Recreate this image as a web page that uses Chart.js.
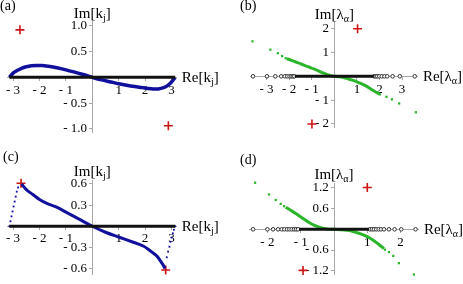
<!DOCTYPE html>
<html><head><meta charset="utf-8">
<script src="https://cdn.jsdelivr.net/npm/chart.js@4/dist/chart.umd.min.js"></script>
<style>
html,body{margin:0;padding:0;background:#fff;width:463px;height:284px;overflow:hidden}
canvas{position:absolute;left:0;top:0}
</style></head><body>
<canvas id="ca" width="463" height="284"></canvas>
<canvas id="cb" width="463" height="284"></canvas>
<canvas id="cc" width="463" height="284"></canvas>
<canvas id="cd" width="463" height="284"></canvas>
<script>
// ---------- Panel (a) ----------
const aCurveX = [-3.14,-3.0,-2.85,-2.7,-2.5,-2.3,-2.1,-1.9,-1.6,-1.3,-1.0,-0.7,-0.35,0,0.35,0.7,1.0,1.3,1.6,1.9,2.1,2.3,2.5,2.7,2.85,3.0,3.14];
const aCurveY = [0,0.08,0.13,0.17,0.205,0.225,0.23,0.228,0.21,0.18,0.145,0.105,0.055,0,-0.05,-0.09,-0.125,-0.155,-0.18,-0.2,-0.215,-0.225,-0.225,-0.2,-0.16,-0.09,0];
const aRealX = [-3.14, 3.14];
const aCrossX = [-2.74, 2.88];
const aCrossY = [0.92, -0.94];
const aXTicks = [-3,-2,-1,1,2,3];
const aXLabels = ['- 3','- 2','- 1','1','2','3'];
const aYTicks = [-1,-0.5,0.5,1];
const aYLabels = ['- 1.0','- 0.5','0.5','1.0'];

// ---------- Panel (b) ----------
const bRealX = [-3.6,-2.98,-2.61,-2.35,-2.19,-2.08,-1.98,-1.9,-1.83,-1.77,1.77,1.83,1.9,1.99,2.1,2.22,2.34,2.58,2.9,3.56];
const bRealDenseX = [-1.75, 1.75];
const bGreenSparseX = [-3.62,-2.83,-2.5,-2.31,-2.15,2.02,2.31,2.55,2.87,3.61];
const bGreenSparseY = [1.47,1.12,0.97,0.85,0.76,-0.76,-0.86,-0.97,-1.14,-1.51];
const bGreenDenseX = [-2.1,-1.9,-1.7,-1.5,-1.3,-1.1,-0.9,-0.7,-0.5,-0.3,-0.15,0,0.2,0.4,0.6,0.8,1.0,1.2,1.4,1.6,1.8,2.0];
const bGreenDenseY = [0.74,0.67,0.6,0.53,0.45,0.38,0.31,0.23,0.14,0.07,0.03,0,-0.02,-0.05,-0.1,-0.16,-0.23,-0.31,-0.4,-0.52,-0.64,-0.74];
const bCrossX = [1.03, -0.99];
const bCrossY = [2.0, -2.0];
const bXTicks = [-3,-2,-1,1,2,3];
const bXLabels = ['- 3','- 2','- 1','1','2','3'];
const bYTicks = [-2,-1,1,2];
const bYLabels = ['- 2','- 1','1','2'];

// ---------- Panel (c) ----------
const cRealX = [-3.14, 3.14];
const cCurveX = [-2.68,-2.5,-2.25,-2.0,-1.7,-1.35,-1.0,-0.5,0,0.5,1.05,1.5,1.93,2.2,2.44,2.63,2.76];
const cCurveY = [0.6,0.52,0.45,0.38,0.32,0.27,0.2,0.1,0,-0.085,-0.16,-0.22,-0.28,-0.35,-0.42,-0.52,-0.6];
const cEdgeX = [-3.14,-3.1,-3.06,-3.02,-2.98,-2.94,-2.9,-2.86,-2.81,2.82,2.87,2.92,2.96,3.0,3.05,3.09,3.13];
const cEdgeY = [0,0.07,0.14,0.21,0.28,0.35,0.42,0.49,0.55,-0.44,-0.36,-0.29,-0.22,-0.16,-0.1,-0.05,0];
const cCrossX = [-2.7, 2.78];
const cCrossY = [0.61, -0.62];
const cXTicks = [-3,-2,-1,1,2,3];
const cXLabels = ['- 3','- 2','- 1','1','2','3'];
const cYTicks = [-0.6,-0.3,0.3,0.6];
const cYLabels = ['- 0.6','- 0.3','0.3','0.6'];

// ---------- Panel (d) ----------
const dRealX = [-2.43,-2.0,-1.83,-1.68,-1.57,-1.49,-1.41,-1.34,-1.27,-1.2,-1.14,-1.08,1.08,1.14,1.2,1.27,1.34,1.41,1.5,1.65,1.82,2.02,2.45];
const dRealDenseX = [-1.05, 1.05];
const dGreenSparseX = [-2.37,-1.95,-1.75,-1.6,-1.5,1.53,1.65,1.78,1.95,2.4];
const dGreenSparseY = [1.35,1.01,0.85,0.74,0.67,-0.59,-0.66,-0.77,-0.98,-1.31];
const dGreenDenseX = [-1.45,-1.3,-1.15,-1.0,-0.8,-0.6,-0.4,-0.2,0,0.2,0.4,0.6,0.8,1.0,1.2,1.35,1.5];
const dGreenDenseY = [0.64,0.55,0.46,0.36,0.23,0.12,0.05,0.01,0,-0.01,-0.03,-0.07,-0.13,-0.21,-0.33,-0.44,-0.56];
const dCrossX = [1.0, -0.93];
const dCrossY = [1.21, -1.19];
const dXTicks = [-2,-1,1,2];
const dXLabels = ['- 2','- 1','1','2'];
const dYTicks = [-1.2,-0.6,0.6,1.2];
const dYLabels = ['- 1.2','- 0.6','0.6','1.2'];

// ---------- helpers ----------
const SERIF = '"Liberation Serif", "DejaVu Serif", serif';
const BLUE = '#10109c', GREEN = '#2ab52a', RED = '#cc1414', AXIS = '#a8a8a8';
function pts(xs, ys) { return xs.map((x, i) => ({x, y: ys ? ys[i] : 0})); }

function drawTitle(ctx, parts, x, y, align) {
  const mainF = '15px ' + SERIF, subF = '10px ' + SERIF;
  ctx.font = mainF; const w0 = ctx.measureText(parts[0]).width; const w2 = ctx.measureText(parts[2]).width;
  ctx.font = subF; const w1 = ctx.measureText(parts[1]).width;
  const tot = w0 + w1 + w2;
  let sx = align === 'center' ? x - tot / 2 : x;
  ctx.textAlign = 'left'; ctx.textBaseline = 'alphabetic';
  ctx.font = mainF; ctx.fillText(parts[0], sx, y);
  ctx.font = subF; ctx.fillText(parts[1], sx + w0, y + 3);
  ctx.font = mainF; ctx.fillText(parts[2], sx + w0 + w1, y);
}

function makeChart(id, cfg) {
  const titles = {
    id: 'titles_' + id,
    afterDraw(chart) {
      const ctx = chart.ctx, xs = chart.scales.x, ys = chart.scales.y;
      const ox = xs.getPixelForValue(0), oy = ys.getPixelForValue(0);
      ctx.save(); ctx.fillStyle = '#000';
      drawTitle(ctx, cfg.yTitle, ox, ys.top - 4, 'center');
      drawTitle(ctx, cfg.xTitle, xs.right + 5, oy + 5, 'left');
      ctx.font = '14px ' + SERIF; ctx.textAlign = 'left'; ctx.textBaseline = 'alphabetic';
      ctx.fillText(cfg.panel[0], cfg.panel[1], cfg.panel[2]);
      ctx.restore();
    }
  };
  const scaleCommon = (ticks, labels, axis) => ({
    type: 'linear',
    grid: { drawOnChartArea: false, drawTicks: true, tickLength: 3, color: AXIS },
    border: { display: true, color: AXIS, width: 1 },
    afterBuildTicks: s => { s.ticks = ticks.map(v => ({ value: v })); },
    afterFit: s => { if (axis === 'x') s.height = 0; else s.width = 0; },
    ticks: {
      autoSkip: false, maxRotation: 0, color: '#000', padding: 2,
      font: { family: SERIF, size: 13 },
      callback: (v) => { const i = ticks.findIndex(t => Math.abs(t - v) < 1e-9); return i >= 0 ? labels[i] + (axis === 'y' ? '\u2009\u2009' : '') : ''; }
    }
  });
  const xs = Object.assign(scaleCommon(cfg.xTicks, cfg.xLabels, 'x'), { min: cfg.xr[0], max: cfg.xr[1], position: { y: 0 } });
  const ys = Object.assign(scaleCommon(cfg.yTicks, cfg.yLabels, 'y'), { min: cfg.yr[0], max: cfg.yr[1], position: { x: 0 } });
  return new Chart(document.getElementById(id), {
    type: 'scatter',
    data: { datasets: cfg.datasets },
    options: {
      responsive: false, animation: false, devicePixelRatio: 1,
      layout: { padding: cfg.pad },
      plugins: { legend: { display: false }, tooltip: { enabled: false } },
      scales: { x: xs, y: ys },
      elements: { point: { hitRadius: 0 } }
    },
    plugins: [titles]
  });
}

const lineDs = (data, color, w) => ({ data, showLine: true, borderColor: color, borderWidth: w, pointRadius: 0, tension: 0.35, clip: false, fill: false });
const dotDs = (data, color, r) => ({ data, showLine: false, pointStyle: 'rect', pointRadius: r, backgroundColor: color, borderColor: color, borderWidth: 0, clip: false });
const circDs = (data) => ({ data, showLine: false, pointStyle: 'circle', pointRadius: 1.8, backgroundColor: '#fff', borderColor: '#333', borderWidth: 1, clip: false });
const crossDs = (data) => ({ data, showLine: false, pointStyle: 'cross', pointRadius: 4.5, borderColor: RED, borderWidth: 1.6, clip: false });

// (a)
makeChart('ca', {
  xr: [-3.2, 3.2], yr: [-1.07, 1.08],
  pad: { left: 7.8, right: 463 - 176.8, top: 21.6, bottom: 284 - 132.5 },
  xTicks: aXTicks, xLabels: aXLabels, yTicks: aYTicks, yLabels: aYLabels,
  yTitle: ['Im[k', 'j', ']'], xTitle: ['Re[k', 'j', ']'], panel: ['(a)', 0, 10],
  datasets: [
    lineDs(pts(aRealX), '#111', 3),
    lineDs(pts(aCurveX, aCurveY), BLUE, 3.5),
    crossDs(pts(aCrossX, aCrossY))
  ]
});
// (b)
makeChart('cb', {
  xr: [-3.7, 3.7], yr: [-2.15, 2.25],
  pad: { left: 250.7, right: 463 - 417.9, top: 22.75, bottom: 284 - 127.5 },
  xTicks: bXTicks, xLabels: bXLabels, yTicks: bYTicks, yLabels: bYLabels,
  yTitle: ['Im[\u03bb', '\u03b1', ']'], xTitle: ['Re[\u03bb', '\u03b1', ']'], panel: ['(b)', 240, 10],
  datasets: [
    lineDs(pts(bRealDenseX), '#111', 3),
    circDs(pts(bRealX)),
    lineDs(pts(bGreenDenseX, bGreenDenseY), GREEN, 3),
    dotDs(pts(bGreenSparseX, bGreenSparseY), GREEN, 1.6),
    crossDs(pts(bCrossX, bCrossY))
  ]
});
// (c)
makeChart('cc', {
  xr: [-3.2, 3.2], yr: [-0.68, 0.65],
  pad: { left: 7.8, right: 463 - 176.8, top: 180.4, bottom: 284 - 283.9 },
  xTicks: cXTicks, xLabels: cXLabels, yTicks: cYTicks, yLabels: cYLabels,
  yTitle: ['Im[k', 'j', ']'], xTitle: ['Re[k', 'j', ']'], panel: ['(c)', 3, 161],
  datasets: [
    lineDs(pts(cRealX), '#111', 3),
    lineDs(pts(cCurveX, cCurveY), BLUE, 3),
    dotDs(pts(cEdgeX, cEdgeY), BLUE, 1.3),
    crossDs(pts(cCrossX, cCrossY))
  ]
});
// (d)
makeChart('cd', {
  xr: [-2.55, 2.55], yr: [-1.3, 1.33],
  pad: { left: 249.1, right: 463 - 418.9, top: 183.4, bottom: 284 - 277.5 },
  xTicks: dXTicks, xLabels: dXLabels, yTicks: dYTicks, yLabels: dYLabels,
  yTitle: ['Im[\u03bb', '\u03b1', ']'], xTitle: ['Re[\u03bb', '\u03b1', ']'], panel: ['(d)', 240, 164],
  datasets: [
    lineDs(pts(dRealDenseX), '#111', 3),
    circDs(pts(dRealX)),
    lineDs(pts(dGreenDenseX, dGreenDenseY), GREEN, 3),
    dotDs(pts(dGreenSparseX, dGreenSparseY), GREEN, 1.6),
    crossDs(pts(dCrossX, dCrossY))
  ]
});
</script>
</body></html>
